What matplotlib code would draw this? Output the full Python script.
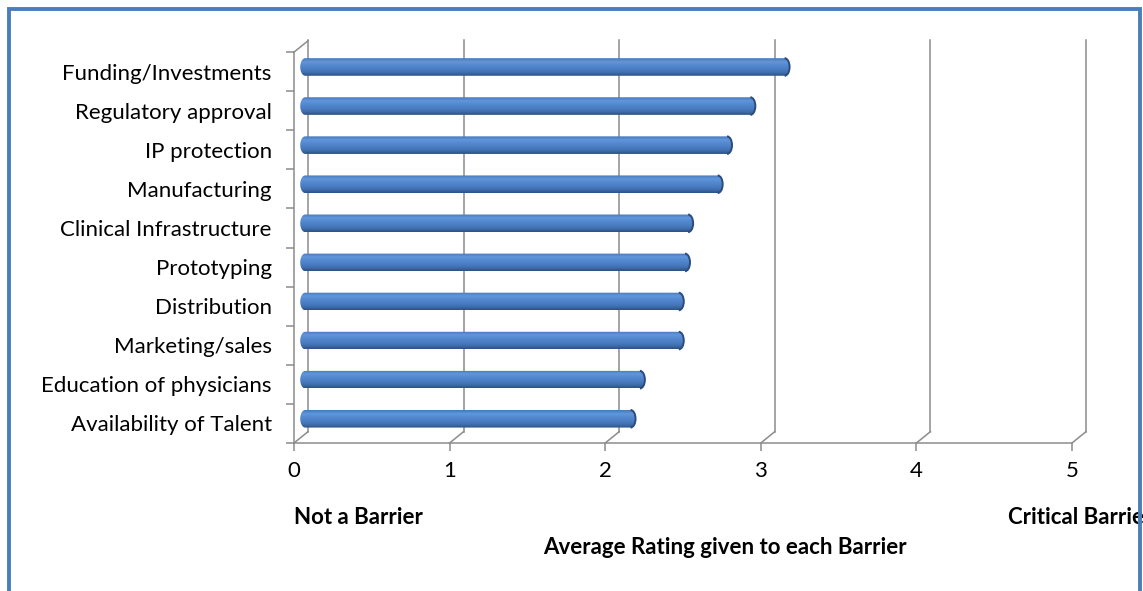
import numpy as np
import matplotlib
matplotlib.use("Agg")
import matplotlib.pyplot as plt
from matplotlib.colors import LinearSegmentedColormap
from matplotlib.patches import Rectangle, Arc
from matplotlib.path import Path
from matplotlib.patches import PathPatch

plt.rcParams['font.family'] = ['Lato', 'DejaVu Sans']

# barriers, bottom to top
barriers = ["Availability of Talent", "Education of physicians", "Marketing/sales",
            "Distribution", "Prototyping", "Clinical Infrastructure",
            "Manufacturing", "IP protection", "Regulatory approval",
            "Funding/Investments"]
ratings = [2.15, 2.21, 2.46, 2.46, 2.50, 2.52, 2.71, 2.77, 2.92, 3.14]
xticks = [0, 1, 2, 3, 4, 5]

W, H = 1143, 591
fig = plt.figure(figsize=(W / 100, H / 100), dpi=100)

# axes frame = front plane of the 3d box
x0_px, x1_px = 294, 1072
ybot_px, ytop_px = 443, 40
ymax = 10.31
ax = fig.add_axes([x0_px / W, 1 - ybot_px / H, (x1_px - x0_px) / W, (ybot_px - ytop_px) / H])
ax.set_xlim(0, 5)
ax.set_ylim(0, ymax)
for s in ax.spines.values():
    s.set_visible(False)

grid_c = "#8c8c8c"
dx, dy = 0.09, 0.29  # depth offset of the back wall

# back wall gridlines and floor slants
for k in xticks:
    ax.plot([k + dx, k + dx], [dy, ymax], color=grid_c, lw=1.1, clip_on=False, zorder=1)
    ax.plot([k, k + dx], [0, dy], color=grid_c, lw=1.1, clip_on=False, zorder=1)
ax.plot([0, 5], [0, 0], color=grid_c, lw=1.1, clip_on=False, zorder=1)
# left side wall
ax.plot([0, 0], [0, 10], color=grid_c, lw=1.1, clip_on=False, zorder=1)
ax.plot([0, dx], [10, 10 + dy], color=grid_c, lw=1.1, clip_on=False, zorder=1)

# ticks
ax.set_xticks(xticks)
ax.set_xticklabels([str(t) for t in xticks], fontsize=16)
ax.tick_params(axis='x', length=6, width=1.1, color=grid_c, pad=7)
ax.set_yticks(np.arange(len(barriers)) + 0.5)
ax.set_yticklabels(barriers, fontsize=16)
ax.set_yticks(np.arange(len(barriers) + 1), minor=True)
ax.tick_params(axis='y', which='major', length=0, pad=16)
ax.tick_params(axis='y', which='minor', length=6, width=1.1, color=grid_c)

# cylinder shading, top to bottom
cyl = LinearSegmentedColormap.from_list("cyl", ["#4677b8", "#6196dc", "#5489cf", "#4b7ec3",
                                                "#4170b0", "#2d5184"])
grad = np.linspace(0, 1, 64).reshape(-1, 1)

h = 0.225
cap_w = 2 * 5 / 155.6
for i, v in enumerate(ratings):
    c = i + 0.62
    xa, xb = 0.04 + cap_w / 2, v + 0.045 - cap_w / 2
    # capsule outline used as clip path
    t = np.linspace(-np.pi / 2, np.pi / 2, 30)
    right = [(xb + cap_w / 2 * np.cos(a), c + h * np.sin(a)) for a in t]
    left = [(xa - cap_w / 2 * np.cos(a), c - h * np.sin(a)) for a in t]
    verts = right + left + [right[0]]
    clip = PathPatch(Path(verts, closed=True), transform=ax.transData, facecolor='none', edgecolor='none')
    ax.add_patch(clip)
    im = ax.imshow(grad, cmap=cyl, aspect='auto', extent=[xa - cap_w / 2, xb + cap_w / 2, c - h, c + h],
                   origin='upper', zorder=3, interpolation='bilinear')
    im.set_clip_path(clip)
    # darker rim on the end face
    ax.add_patch(Arc((xb, c), cap_w, 2 * h, theta1=-90, theta2=90, color="#2b4c7c",
                     lw=1.4, zorder=4, clip_on=False))

ax.set_xlim(0, 5)
ax.set_ylim(0, ymax)

# axis captions
fig.text(294 / W, 1 - 518 / H, "Not a Barrier", fontsize=16, fontweight='bold', va='center', ha='left')
fig.text(1008 / W, 1 - 518 / H, "Critical Barrier", fontsize=16, fontweight='bold', va='center', ha='left')
fig.text(725 / W, 1 - 548 / H, "Average Rating given to each Barrier", fontsize=16,
         fontweight='bold', va='center', ha='center')

# chart area border
border = Rectangle((9 / W, -0.1), (1140 - 9) / W, 1.1 - 9 / H, transform=fig.transFigure,
                   facecolor='none', edgecolor='#4a7ebb', lw=2.8, zorder=10, clip_on=False)
fig.patches.append(border)

fig.savefig("out.png", dpi=100, facecolor='white')
